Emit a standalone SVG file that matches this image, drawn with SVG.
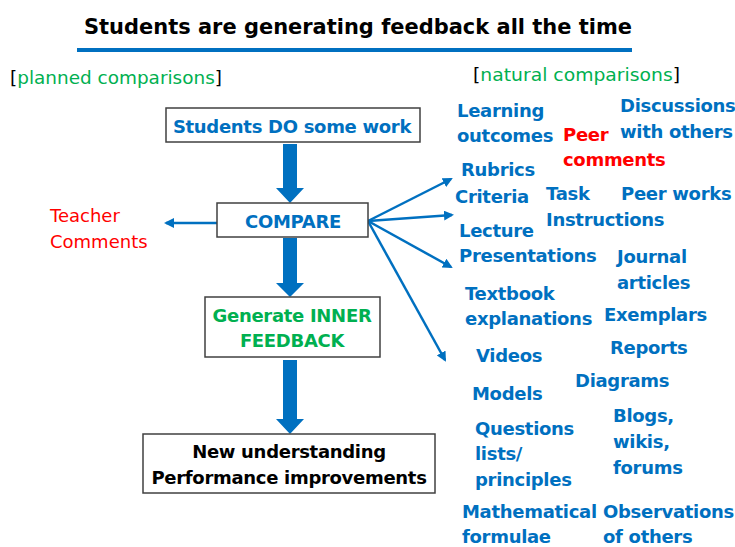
<svg xmlns="http://www.w3.org/2000/svg" width="735" height="547" viewBox="0 0 735 547">
<defs>
<style>
text{font-family:"DejaVu Sans","Liberation Sans",sans-serif;}
.b{fill:#0070C0;font-weight:bold;font-size:18px;letter-spacing:-0.3px;}
.bb{font-weight:bold;font-size:18px;letter-spacing:-0.3px;}
.r{fill:#FF0000;}
.g{fill:#00B050;}
.k{fill:#000;}
.box{fill:#fff;stroke:#404040;stroke-width:1.5;}
.thin{stroke:#0070C0;stroke-width:2.5;fill:none;marker-end:url(#ah);}
.fat{fill:#0070C0;}
</style>
<marker id="ah" viewBox="0 0 10 10" refX="8" refY="5" markerWidth="4" markerHeight="4" orient="auto" markerUnits="strokeWidth">
<path d="M0,0 L10,5 L0,10 Z" fill="#0070C0"/>
</marker>
</defs>
<rect width="735" height="547" fill="#fff"/>
<g id="title">
<text x="358" y="34" text-anchor="middle" font-size="22" font-weight="bold" class="k" textLength="548" lengthAdjust="spacingAndGlyphs">Students are generating feedback all the time</text>
<rect x="77" y="48" width="555" height="4" fill="#0070C0"/>
</g>
<g id="planned"><text x="10" y="84" font-size="18" textLength="212" lengthAdjust="spacingAndGlyphs"><tspan class="k">[</tspan><tspan class="g">planned comparisons</tspan><tspan class="k">]</tspan></text></g>
<g id="natural"><text x="473" y="81" font-size="18" textLength="207" lengthAdjust="spacingAndGlyphs"><tspan class="k">[</tspan><tspan class="g">natural comparisons</tspan><tspan class="k">]</tspan></text></g>

<g id="connectors">
<path class="fat" d="M283,144 H297 V188 H304 L290,203 L276,188 H283 Z"/>
<path class="fat" d="M283,238 H297 V283 H304 L290,297 L276,283 H283 Z"/>
<path class="fat" d="M283,360 H297 V419 H304 L290,434 L276,419 H283 Z"/>
<line class="thin" x1="217" y1="223" x2="166" y2="223"/>
<line class="thin" x1="368" y1="221" x2="451" y2="179"/>
<line class="thin" x1="368" y1="221" x2="452" y2="215"/>
<line class="thin" x1="368" y1="221" x2="451" y2="267"/>
<line class="thin" x1="368" y1="221" x2="445" y2="360"/>
</g>

<g id="n-do"><rect class="box" x="166" y="108" width="254" height="34"/><text class="b" x="292" y="133" text-anchor="middle">Students DO some work</text></g>
<g id="n-compare"><rect class="box" x="217" y="203" width="151" height="34"/><text class="b" x="293" y="228" text-anchor="middle">COMPARE</text></g>
<g id="n-inner"><rect class="box" x="205" y="297" width="175" height="60"/><text x="292" y="322" text-anchor="middle" class="bb g">Generate INNER</text><text x="292" y="347" text-anchor="middle" class="bb g">FEEDBACK</text></g>
<g id="n-new"><rect class="box" x="143" y="434" width="292" height="59"/><text x="289" y="458" text-anchor="middle" class="bb k">New understanding</text><text x="289" y="484" text-anchor="middle" class="bb k">Performance improvements</text></g>
<g id="n-teacher"><text x="50" y="222" font-size="18" class="r">Teacher</text><text x="50" y="248" font-size="18" class="r">Comments</text></g>

<g id="n-learning"><text class="b" x="457" y="117">Learning</text><text class="b" x="457" y="142">outcomes</text></g>
<g id="n-peer"><text class="b r" x="563" y="141">Peer</text><text class="b r" x="563" y="166">comments</text></g>
<g id="n-disc"><text class="b" x="620" y="112">Discussions</text><text class="b" x="620" y="138">with others</text></g>
<g id="n-rubrics"><text class="b" x="461" y="176">Rubrics</text></g>
<g id="n-criteria"><text class="b" x="455" y="203">Criteria</text></g>
<g id="n-task"><text class="b" x="546" y="200">Task</text><text class="b" x="546" y="226">Instructions</text></g>
<g id="n-peerworks"><text class="b" x="621" y="200">Peer works</text></g>
<g id="n-lecture"><text class="b" x="459" y="237">Lecture</text><text class="b" x="459" y="262">Presentations</text></g>
<g id="n-journal"><text class="b" x="617" y="263">Journal</text><text class="b" x="617" y="289">articles</text></g>
<g id="n-textbook"><text class="b" x="465" y="300">Textbook</text><text class="b" x="465" y="325">explanations</text></g>
<g id="n-exemplars"><text class="b" x="604" y="321">Exemplars</text></g>
<g id="n-videos"><text class="b" x="476" y="362">Videos</text></g>
<g id="n-reports"><text class="b" x="610" y="354">Reports</text></g>
<g id="n-diagrams"><text class="b" x="575" y="387">Diagrams</text></g>
<g id="n-models"><text class="b" x="472" y="400">Models</text></g>
<g id="n-questions"><text class="b" x="475" y="435">Questions</text><text class="b" x="475" y="460">lists/</text><text class="b" x="475" y="486">principles</text></g>
<g id="n-blogs"><text class="b" x="613" y="422">Blogs,</text><text class="b" x="613" y="448">wikis,</text><text class="b" x="613" y="474">forums</text></g>
<g id="n-math"><text class="b" x="462" y="518">Mathematical</text><text class="b" x="462" y="543">formulae</text></g>
<g id="n-obs"><text class="b" x="603" y="518">Observations</text><text class="b" x="603" y="543">of others</text></g>
</svg>
